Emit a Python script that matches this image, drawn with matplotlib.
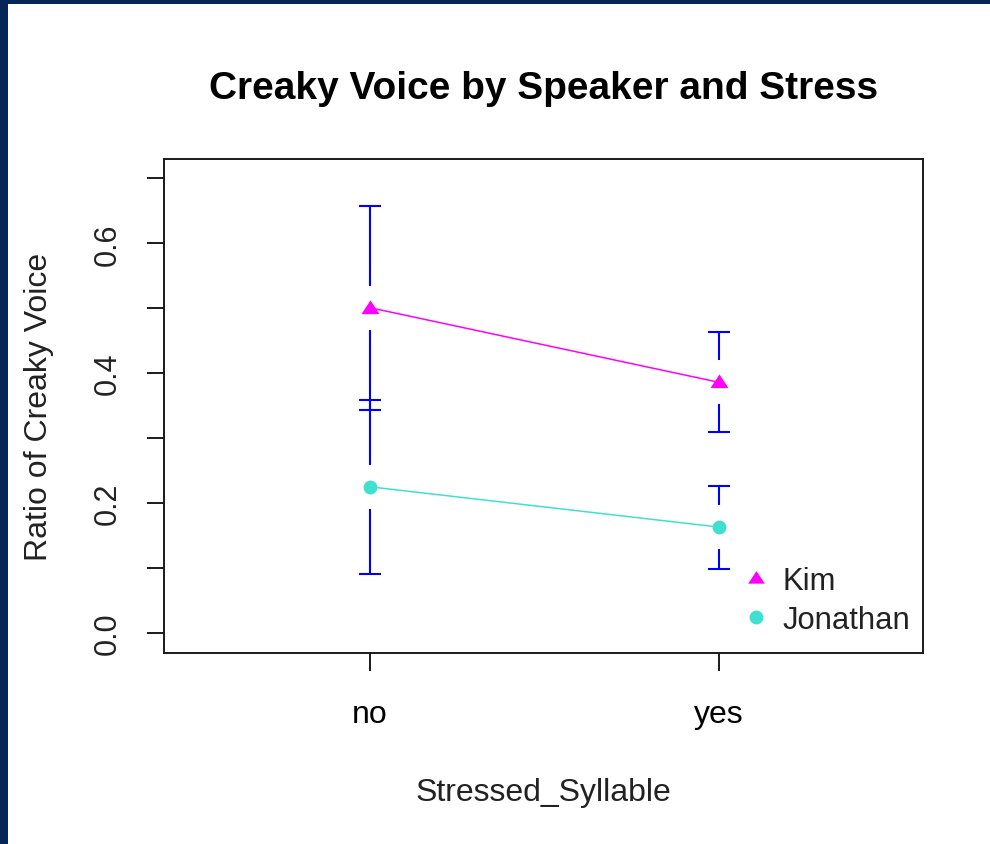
import matplotlib
matplotlib.use("Agg")
import matplotlib.pyplot as plt
from matplotlib.patches import Rectangle
from matplotlib.lines import Line2D

# ---- data ----
categories = ["no", "yes"]
speakers = ["Kim", "Jonathan"]
kim_mean = [0.501, 0.386]
kim_err = [0.157, 0.077]
jon_mean = [0.225, 0.163]
jon_err = [0.134, 0.064]
yticks = [0.0, 0.1, 0.2, 0.3, 0.4, 0.5, 0.6, 0.7]
ytick_labels = ["0.0", "", "0.2", "", "0.4", "", "0.6", ""]

W, H = 990, 845
fig = plt.figure(figsize=(W / 100, H / 100), dpi=100)
fig.patch.set_facecolor("#062658")
fig.patches.append(Rectangle((8 / W, 0), 1, 1 - 5 / H, transform=fig.transFigure,
                             facecolor="white", edgecolor="none", zorder=-10))

font = ["Liberation Sans", "DejaVu Sans"]
ax = fig.add_axes([164 / W, (H - 654) / H, (923 - 164) / W, (654 - 160) / H])
ax.set_facecolor("white")
x = [1, 2]
ax.set_xlim(0.41, 2.585)
ax.set_ylim(-0.031, 0.730)

gap = 0.034
capw = 0.032
ebcol = "#0000FF"
for means, errs in [(kim_mean, kim_err), (jon_mean, jon_err)]:
    for xi, m, e in zip(x, means, errs):
        ax.vlines(xi, m + gap, m + e, color=ebcol, lw=1.5, zorder=2)
        ax.vlines(xi, m - e, m - gap, color=ebcol, lw=1.5, zorder=2)
        ax.hlines([m + e, m - e], xi - capw, xi + capw, color=ebcol, lw=1.5, zorder=2)

tri = [(-1, -0.62), (1, -0.62), (0, 0.9)]
ax.plot(x, kim_mean, color="#FF00FF", lw=1.1, marker=tri, markersize=13,
        markeredgewidth=0, label=speakers[0], zorder=3)
ax.plot(x, jon_mean, color="#40E0D0", lw=1.1, marker="o", markersize=10,
        markeredgewidth=0, label=speakers[1], zorder=3)

for s in ax.spines.values():
    s.set_linewidth(1.4)
    s.set_color("#1a1a1a")

ax.set_yticks(yticks)
ax.set_yticklabels(ytick_labels, rotation=90, va="center", family=font, fontsize=22,
                   color="#222222")
ax.tick_params(axis="y", length=12.5, width=1.4, pad=17, color="#1a1a1a")
ax.set_xticks(x)
ax.set_xticklabels(categories, family=["Liberation Sans Narrow", "Liberation Sans"],
                   fontsize=23, color="#000000")
ax.tick_params(axis="x", length=13, width=1.4, pad=20, color="#1a1a1a")

ax.set_title("Creaky Voice by Speaker and Stress", family=font, fontsize=28,
             fontweight="bold", pad=44)
ax.set_xlabel("Stressed_Syllable", family=font, fontsize=23, labelpad=35, color="#222222")
ax.set_ylabel("Ratio of Creaky Voice", family=font, fontsize=23, labelpad=28, color="#222222")

handles = [Line2D([], [], ls="none", marker=tri, markersize=12, color="#FF00FF", markeredgewidth=0),
           Line2D([], [], ls="none", marker="o", markersize=10, color="#40E0D0", markeredgewidth=0)]
leg = ax.legend(handles, speakers, loc="upper left",
                bbox_to_anchor=(741 / W, 1 - 567 / H), bbox_transform=fig.transFigure,
                frameon=False, borderpad=0, borderaxespad=0, handlelength=1.0,
                handletextpad=0.33, labelspacing=0.3,
                prop={"family": font, "size": 22.3})
for t in leg.get_texts():
    t.set_color("#222222")

fig.savefig("out.png", dpi=100, facecolor=fig.get_facecolor())
